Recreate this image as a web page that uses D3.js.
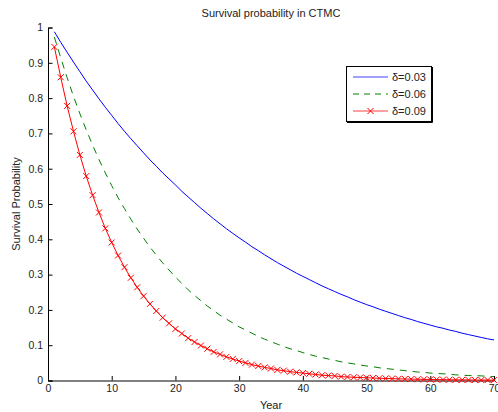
<!DOCTYPE html>
<html><head><meta charset="utf-8">
<script src="https://cdn.jsdelivr.net/npm/d3@7"></script>
<style>
body{margin:0;background:#fff;}
svg{display:block;font-family:"Liberation Sans",Arial,Helvetica,sans-serif;}
</style></head>
<body>
<svg id="chart" width="498" height="412"></svg>
<script>
const years = d3.range(1, 71);
const blueVals = [0.988,0.958,0.930,0.902,0.875,0.848,0.823,0.798,0.774,0.751,0.728,0.706,0.685,0.665,0.645,0.625,0.607,0.588,0.571,0.554,
0.536,0.520,0.504,0.488,0.473,0.458,0.444,0.430,0.417,0.404,0.392,0.379,0.368,0.356,0.345,0.334,0.324,0.314,0.304,0.295,
0.286,0.277,0.268,0.260,0.252,0.244,0.237,0.229,0.222,0.215,0.209,0.202,0.196,0.190,0.184,0.178,0.173,0.167,0.162,0.157,
0.152,0.148,0.143,0.139,0.134,0.130,0.126,0.122,0.118,0.115];
const greenVals = [0.973,0.914,0.858,0.805,0.756,0.710,0.667,0.626,0.588,0.552,0.518,0.487,0.457,0.429,0.403,0.378,0.355,0.333,0.313,0.293,
0.275,0.257,0.241,0.226,0.211,0.198,0.185,0.174,0.163,0.152,0.143,0.134,0.125,0.117,0.110,0.103,0.096,0.090,0.085,0.079,
0.074,0.069,0.065,0.061,0.057,0.053,0.050,0.047,0.044,0.041,0.039,0.036,0.034,0.032,0.030,0.028,0.026,0.024,0.023,0.021,
0.020,0.019,0.018,0.016,0.015,0.014,0.014,0.013,0.012,0.011];
const redVals = [0.945,0.859,0.778,0.706,0.639,0.579,0.525,0.476,0.431,0.391,0.354,0.321,0.291,0.264,0.239,0.217,0.197,0.178,0.162,0.146,
0.133,0.120,0.109,0.099,0.090,0.081,0.074,0.067,0.061,0.055,0.050,0.045,0.041,0.037,0.034,0.030,0.028,0.025,0.023,0.021,
0.019,0.017,0.015,0.014,0.013,0.011,0.010,0.009,0.0085,0.0077,0.0070,0.0063,0.0057,0.0052,0.0047,0.0043,0.0039,0.0035,0.0032,0.0029,
0.0026,0.0024,0.0021,0.0019,0.0018,0.0016,0.0014,0.0013,0.0012,0.0011];
const seriesNames = ["δ=0.03","δ=0.06","δ=0.09"];
const xTicks = [0,10,20,30,40,50,60,70];
const yTicks = [0,0.1,0.2,0.3,0.4,0.5,0.6,0.7,0.8,0.9,1];
const yTickLabels = ["0","0.1","0.2","0.3","0.4","0.5","0.6","0.7","0.8","0.9","1"];

const svg = d3.select("#chart");
const L = 48, R = 494, T = 27.5, B = 380.5;
const x = d3.scaleLinear().domain([0,70]).range([L,R]);
const y = d3.scaleLinear().domain([0,1]).range([B,T]);

// axes
const xAxis = d3.axisBottom(x).tickValues(xTicks).tickFormat(d3.format("d")).tickSize(-4.5).tickPadding(3);
const yAxis = d3.axisLeft(y).tickValues(yTicks).tickFormat((d,i)=>yTickLabels[i]).tickSize(-4.5).tickPadding(5);
const gx = svg.append("g").attr("transform",`translate(0,${B})`).call(xAxis);
const gy = svg.append("g").attr("transform",`translate(${L},0)`).call(yAxis);
[gx,gy].forEach(g=>{
  g.select(".domain").attr("stroke","#000").attr("stroke-width",1);
  g.selectAll(".tick line").attr("stroke","#000");
  g.selectAll(".tick text").attr("fill","#222").style("font-size","10.5px").style("font-family","Liberation Sans, Arial, sans-serif");
});
gx.selectAll(".tick text").attr("dy","0.8em");

// lines
const line = d3.line().x((d,i)=>x(years[i])).y(d=>y(d));
svg.append("path").datum(blueVals).attr("d",line).attr("fill","none").attr("stroke","#0000ff").attr("stroke-width",1);
svg.append("path").datum(greenVals).attr("d",line).attr("fill","none").attr("stroke","#008000").attr("stroke-width",1).attr("stroke-dasharray","7,6");
svg.append("path").datum(redVals).attr("d",line).attr("fill","none").attr("stroke","#ff0000").attr("stroke-width",1);
const m = 3;
const mk = svg.append("g").attr("stroke","#ff0000").attr("stroke-width",1);
redVals.forEach((v,i)=>{
  const cx = x(years[i]), cy = y(v);
  mk.append("path").attr("d",`M${cx-m},${cy-m}L${cx+m},${cy+m}M${cx-m},${cy+m}L${cx+m},${cy-m}`);
});

// title and labels
svg.append("text").attr("x",(L+R)/2).attr("y",17).attr("text-anchor","middle")
  .style("font-size","11px").attr("fill","#222").text("Survival probability in CTMC");
svg.append("text").attr("x",(L+R)/2).attr("y",409).attr("text-anchor","middle")
  .style("font-size","11px").attr("fill","#222").text("Year");
svg.append("text").attr("transform",`translate(20,${(T+B)/2}) rotate(-90)`).attr("text-anchor","middle")
  .style("font-size","11px").attr("fill","#222").text("Survival Probability");

// legend
const lg = svg.append("g");
lg.append("rect").attr("x",346.5).attr("y",66.5).attr("width",85).attr("height",55).attr("fill","#fff").attr("stroke","#000").attr("stroke-width",1);
lg.append("path").attr("d","M347,122.5H432.5V67").attr("fill","none").attr("stroke","#000").attr("stroke-width",1);
const colors = ["#0000ff","#008000","#ff0000"];
const rowsY = [77,94,111];
seriesNames.forEach((name,i)=>{
  const g = lg.append("g");
  const ln = g.append("line").attr("x1",353).attr("x2",388).attr("y1",rowsY[i]).attr("y2",rowsY[i])
    .attr("stroke",colors[i]).attr("stroke-width",1).attr("stroke-opacity",i===1?1:0.75);
  if(i===1) ln.attr("stroke-dasharray","6,5");
  if(i===2){
    const cx=370.5, cy=rowsY[i];
    g.append("path").attr("d",`M${cx-m},${cy-m}L${cx+m},${cy+m}M${cx-m},${cy+m}L${cx+m},${cy-m}`).attr("stroke","#ff0000");
  }
  g.append("text").attr("x",392).attr("y",rowsY[i]+4).style("font-size","11px").attr("fill","#222").text(name);
});
</script>
</body></html>
